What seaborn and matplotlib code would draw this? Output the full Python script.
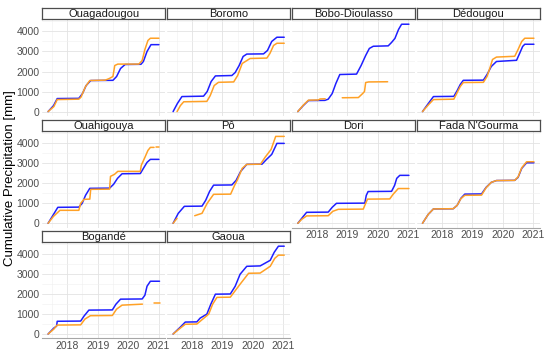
import numpy as np
import pandas as pd
import matplotlib
matplotlib.use("Agg")
import matplotlib.pyplot as plt
import seaborn as sns

# station panels, in facet order
stations = ["Ouagadougou", "Boromo", "Bobo-Dioulasso", "Dédougou", "Ouahigouya",
            "Pô", "Dori", "Fada N'Gourma", "Bogandé", "Gaoua"]
year_ticks = [2018, 2019, 2020, 2021]
mm_ticks = [0, 1000, 2000, 3000, 4000]

# (decimal year, cumulative mm); None = gap in the record
ouagadougou_blue = [(2017.37, 0), (2017.55, 300), (2017.67, 650), (2018.38, 660), (2018.50, 900),
                    (2018.62, 1300), (2018.77, 1550), (2019.50, 1560), (2019.62, 1750), (2019.75, 2150),
                    (2019.90, 2350), (2020.42, 2360), (2020.50, 2500), (2020.62, 3000), (2020.75, 3340),
                    (2021.01, 3340)]
ouagadougou_orange = [(2017.37, 0), (2017.56, 250), (2017.67, 600), (2018.38, 620), (2018.45, 720),
                      (2018.60, 1250), (2018.74, 1550), (2019.25, 1570), (2019.38, 1650), (2019.50, 1750),
                      (2019.56, 2300), (2019.66, 2370), (2020.35, 2370), (2020.46, 2550), (2020.55, 3100),
                      (2020.65, 3550), (2020.73, 3660), (2021.01, 3660)]
boromo_blue = [(2017.38, 0), (2017.52, 400), (2017.67, 750), (2018.38, 770), (2018.50, 1000),
               (2018.63, 1500), (2018.77, 1780), (2019.31, 1800), (2019.42, 1950), (2019.55, 2300),
               (2019.68, 2750), (2019.80, 2870), (2020.35, 2880), (2020.48, 3050), (2020.62, 3500),
               (2020.79, 3710), (2021.03, 3710)]
boromo_orange = [(2017.51, 0), (2017.62, 300), (2017.73, 490), (2018.49, 510), (2018.60, 800),
                 (2018.73, 1300), (2018.87, 1460), (2019.37, 1480), (2019.50, 1800), (2019.65, 2400),
                 (2019.91, 2650), (2020.46, 2670), (2020.56, 2900), (2020.68, 3300), (2020.79, 3410),
                 (2021.03, 3410)]
bobo_blue = [(2017.37, 0), (2017.55, 300), (2017.72, 550), (2018.26, 560), (2018.37, 620),
             (2018.50, 900), (2018.62, 1400), (2018.75, 1850), (2019.30, 1870), (2019.45, 2300),
             (2019.60, 2800), (2019.72, 3150), (2019.85, 3260), (2020.34, 3280), (2020.45, 3450),
             (2020.56, 3650), (2020.68, 4100), (2020.78, 4360), (2021.02, 4360)]
bobo_orange = [(2017.37, 0), (2017.55, 320), (2017.72, 570), (2018.05, 580), (2018.10, 630),
               (2018.27, 640), None, (2018.83, 690), (2019.36, 700), (2019.50, 900), (2019.56, 1000),
               (2019.60, 1450), (2019.70, 1480), (2020.32, 1490)]
dedougou_blue = [(2017.36, 0), (2017.55, 400), (2017.72, 750), (2018.39, 760), (2018.50, 1050),
                 (2018.60, 1350), (2018.70, 1560), (2019.36, 1570), (2019.48, 1850), (2019.62, 2250),
                 (2019.79, 2500), (2020.45, 2560), (2020.55, 2900), (2020.65, 3250), (2020.72, 3360),
                 (2021.02, 3360)]
dedougou_orange = [(2017.36, 0), (2017.55, 330), (2017.72, 600), (2018.39, 620), (2018.50, 950),
                   (2018.60, 1250), (2018.70, 1450), (2019.36, 1460), (2019.48, 1750), (2019.58, 2200),
                   (2019.66, 2600), (2019.79, 2720), (2020.39, 2760), (2020.50, 3100), (2020.62, 3500),
                   (2020.72, 3660), (2021.02, 3660)]
ouahigouya_blue = [(2017.37, 0), (2017.55, 450), (2017.69, 800), (2018.38, 810), (2018.49, 1000),
                   (2018.60, 1400), (2018.74, 1750), (2019.39, 1760), (2019.52, 1950), (2019.65, 2250),
                   (2019.80, 2480), (2020.40, 2490), (2020.50, 2750), (2020.62, 3050), (2020.73, 3200),
                   (2021.01, 3200)]
ouahigouya_orange = [(2017.37, 0), (2017.55, 350), (2017.76, 650), (2018.38, 650), (2018.44, 1000),
                     (2018.55, 1200), (2018.74, 1210), (2018.77, 1700), (2019.39, 1710), (2019.42, 2350),
                     (2019.55, 2450), (2019.66, 2600), (2020.40, 2600), (2020.43, 2900), (2020.55, 3300),
                     (2020.65, 3650), (2020.73, 3800), (2020.85, 3800), None, (2020.92, 3800),
                     (2021.01, 3800)]
po_blue = [(2017.38, 0), (2017.55, 500), (2017.75, 850), (2018.33, 860), (2018.45, 1150),
           (2018.58, 1600), (2018.71, 1910), (2019.31, 1920), (2019.45, 2150), (2019.60, 2600),
           (2019.80, 2950), (2020.30, 2960), (2020.45, 3200), (2020.62, 3450), (2020.79, 4000),
           (2021.03, 4000)]
po_orange = [(2017.38, 0), (2017.51, 250), None, (2018.09, 380), (2018.33, 500), (2018.50, 1000),
             (2018.71, 1450), (2019.27, 1460), (2019.40, 1900), (2019.50, 2200), (2019.65, 2750),
             (2019.80, 2950), (2020.25, 2960), (2020.40, 3300), (2020.60, 3700), (2020.75, 4350),
             (2021.03, 4350)]
dori_blue = [(2017.37, 0), (2017.50, 250), (2017.66, 550), (2018.37, 560), (2018.50, 800),
             (2018.64, 1000), (2019.57, 1010), (2019.62, 1400), (2019.68, 1590), (2020.45, 1600),
             (2020.55, 1900), (2020.62, 2250), (2020.72, 2400), (2021.02, 2400)]
dori_orange = [(2017.37, 0), (2017.50, 200), (2017.66, 370), (2018.37, 380), (2018.52, 600),
               (2018.70, 700), (2019.52, 710), (2019.60, 1000), (2019.66, 1210), (2020.39, 1220),
               (2020.50, 1450), (2020.67, 1740), (2021.02, 1740)]
fada_blue = [(2017.36, 0), (2017.55, 450), (2017.72, 720), (2018.37, 730), (2018.50, 900),
             (2018.62, 1250), (2018.75, 1460), (2019.30, 1470), (2019.45, 1800), (2019.62, 2050),
             (2019.79, 2140), (2020.39, 2150), (2020.50, 2300), (2020.62, 2750), (2020.78, 3030),
             (2021.02, 3030)]
fada_orange = [(2017.36, 0), (2017.55, 450), (2017.72, 720), (2018.37, 730), (2018.50, 900),
               (2018.62, 1230), (2018.75, 1400), (2019.30, 1410), (2019.45, 1780), (2019.62, 2050),
               (2019.79, 2140), (2020.39, 2150), (2020.50, 2320), (2020.62, 2780), (2020.78, 3080),
               (2021.02, 3080)]
bogande_blue = [(2017.37, 0), (2017.56, 300), (2017.65, 400), (2017.67, 640), (2018.44, 650),
                (2018.55, 900), (2018.71, 1200), (2019.48, 1210), (2019.60, 1500), (2019.75, 1750),
                (2020.46, 1760), (2020.55, 1950), (2020.62, 2400), (2020.73, 2650), (2021.03, 2650)]
bogande_orange = [(2017.37, 0), (2017.56, 250), (2017.67, 450), (2018.44, 460), (2018.58, 750),
                  (2018.76, 920), (2019.48, 930), (2019.62, 1250), (2019.80, 1450), (2020.47, 1500),
                  None, (2020.84, 1540), (2021.03, 1540)]
gaoua_blue = [(2017.38, 0), (2017.62, 350), (2017.78, 600), (2018.16, 610), (2018.27, 800),
              (2018.49, 1000), (2018.62, 1500), (2018.77, 2000), (2019.26, 2010), (2019.42, 2400),
              (2019.58, 3000), (2019.80, 3400), (2020.24, 3420), (2020.57, 3700), (2020.70, 4100),
              (2020.84, 4410), (2021.03, 4410)]
gaoua_orange = [(2017.38, 0), (2017.62, 300), (2017.78, 490), (2018.16, 500), (2018.55, 1000),
                (2018.68, 1500), (2018.82, 1840), (2019.26, 1850), (2019.58, 2500), (2019.86, 3050),
                (2020.24, 3060), (2020.57, 3400), (2020.72, 3800), (2020.84, 3960), (2021.03, 3960)]

series_by_station = {
    "Ouagadougou": (ouagadougou_blue, ouagadougou_orange),
    "Boromo": (boromo_blue, boromo_orange),
    "Bobo-Dioulasso": (bobo_blue, bobo_orange),
    "Dédougou": (dedougou_blue, dedougou_orange),
    "Ouahigouya": (ouahigouya_blue, ouahigouya_orange),
    "Pô": (po_blue, po_orange),
    "Dori": (dori_blue, dori_orange),
    "Fada N'Gourma": (fada_blue, fada_orange),
    "Bogandé": (bogande_blue, bogande_orange),
    "Gaoua": (gaoua_blue, gaoua_orange),
}


def to_rows(station, series, points):
    rows, seg = [], 0
    for p in points:
        if p is None:
            seg += 1
            continue
        rows.append({"station": station, "series": series, "segment": f"{series}{seg}",
                     "year": p[0], "mm": p[1]})
    return rows


records = []
for st in stations:
    blue, orange = series_by_station[st]
    records += to_rows(st, "blue", blue) + to_rows(st, "orange", orange)
df = pd.DataFrame(records)

sns.set_theme(style="white")
plt.rcParams["font.family"] = ["Liberation Sans", "DejaVu Sans"]

W, H = 550, 356
fig = plt.figure(figsize=(W / 100, H / 100), dpi=100)

col_left = [42.3, 167.0, 292.0, 417.0]
panel_w = 122.7
rows_px = [(19.0, 116.0), (131.0, 227.7), (242.0, 338.4)]
strip_h = 11.0
palette = {"blue": "#1f1fff", "orange": "#ffa126"}

for i, st in enumerate(stations):
    r, c = divmod(i, 4)
    top, bot = rows_px[r]
    x0 = col_left[c]
    ax = fig.add_axes([x0 / W, 1 - bot / H, panel_w / W, (bot - top) / H])
    sub = df[df.station == st]
    for s in ["blue", "orange"]:
        sns.lineplot(data=sub[sub.series == s], x="year", y="mm", units="segment",
                     estimator=None, sort=False, color=palette[s], lw=1.1, ax=ax, legend=False)
    ax.set_xlim(2017.18, 2021.21)
    ax.set_ylim(-220, 4620)
    ax.set_xticks(year_ticks)
    ax.set_xticks([2017.5, 2018.5, 2019.5, 2020.5], minor=True)
    ax.set_yticks(mm_ticks)
    ax.set_yticks([500, 1500, 2500, 3500, 4500], minor=True)
    ax.grid(True, which="major", color="#e3e3e3", lw=0.6)
    ax.grid(True, which="minor", color="#f0f0f0", lw=0.4)
    ax.set_axisbelow(True)
    ax.set_xlabel("")
    ax.set_ylabel("")
    for sp in ax.spines.values():
        sp.set_visible(False)
    bottom_panel = (i >= 6)
    ax.tick_params(which="both", length=0, pad=2, labelsize=7.5, labelcolor="#4d4d4d")
    if bottom_panel:
        ax.spines["bottom"].set_visible(True)
        ax.spines["bottom"].set_color("#a6a6a6")
        ax.spines["bottom"].set_linewidth(0.8)
        ax.set_xticklabels([str(t) for t in year_ticks])
    else:
        ax.set_xticklabels([])
    if c == 0:
        ax.set_yticklabels([str(t) for t in mm_ticks])
    else:
        ax.set_yticklabels([])

    sax = fig.add_axes([x0 / W, 1 - top / H, panel_w / W, strip_h / H])
    sax.set_xticks([])
    sax.set_yticks([])
    sax.set_facecolor("white")
    for sp in sax.spines.values():
        sp.set_visible(True)
        sp.set_color("#4d4d4d")
        sp.set_linewidth(0.9)
    sax.text(0.5, 0.45, st, ha="center", va="center", fontsize=8, color="#1a1a1a",
             transform=sax.transAxes)

fig.text(10 / W, 1 - 178 / H, "Cumulative Precipitation [mm]", rotation=90,
         ha="center", va="center", fontsize=9.5, color="black")

fig.savefig("out.png", dpi=100, facecolor="white")
